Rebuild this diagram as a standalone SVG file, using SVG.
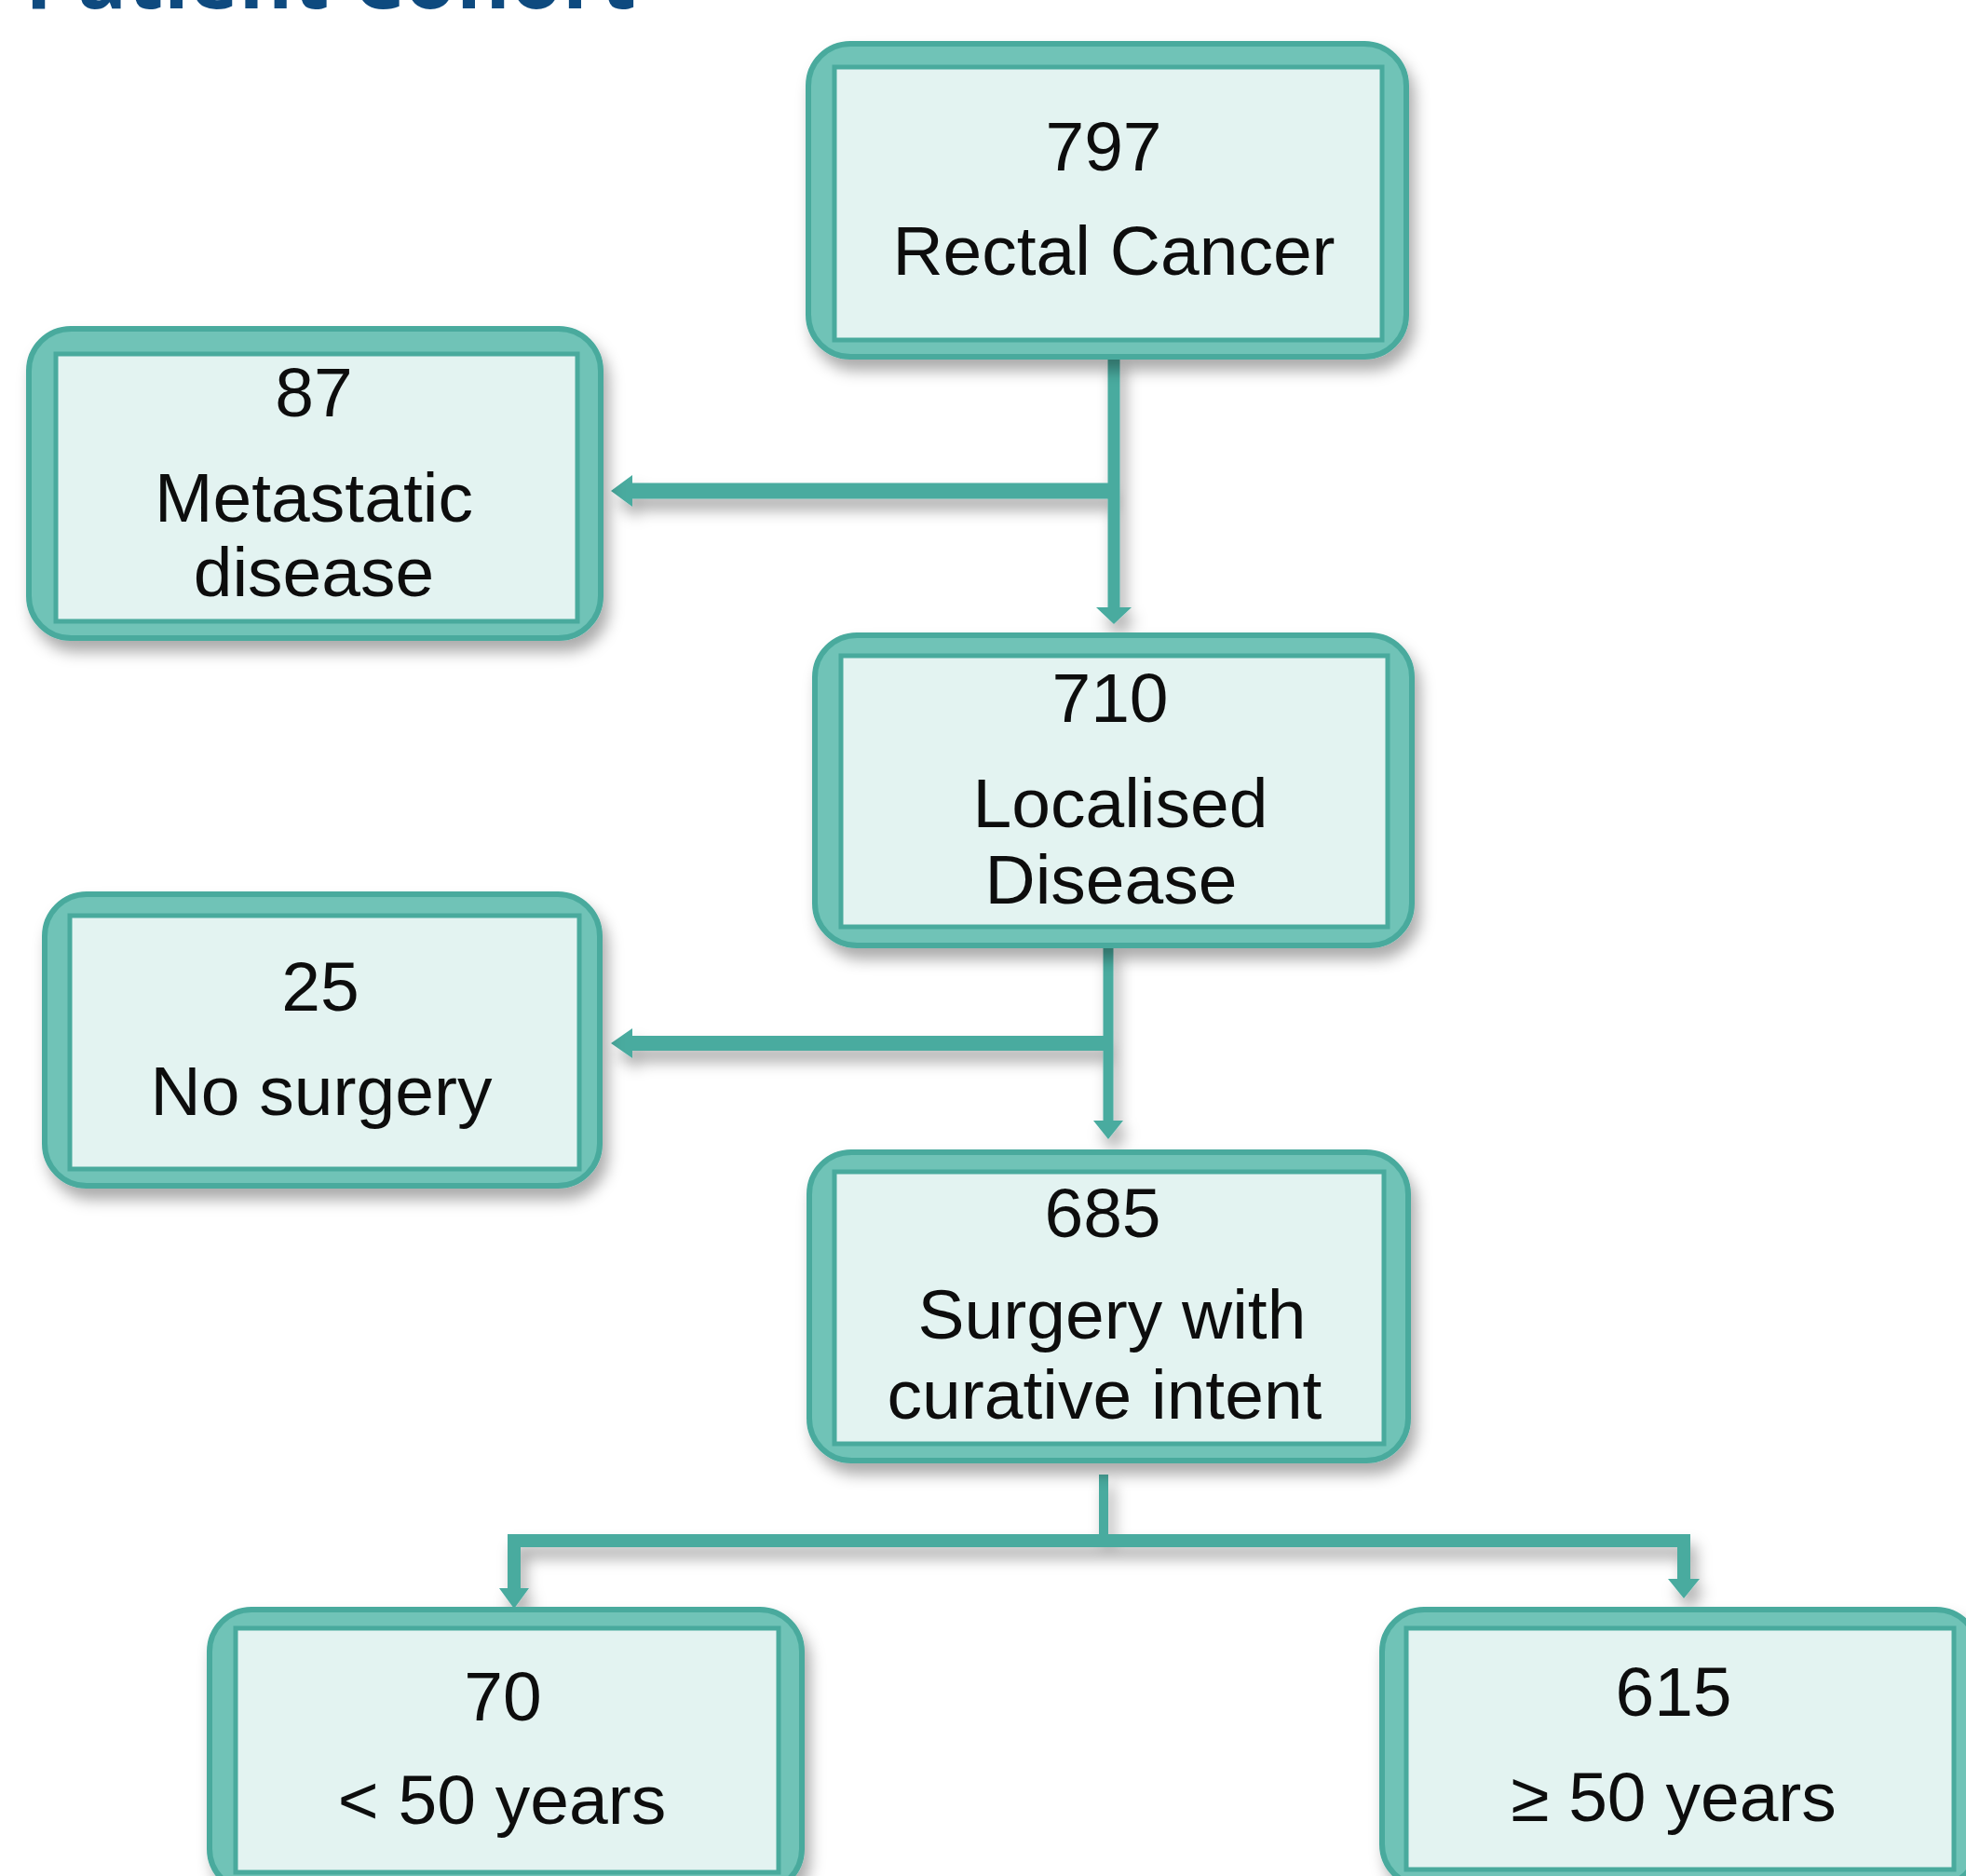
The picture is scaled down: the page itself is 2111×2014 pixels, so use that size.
<svg xmlns="http://www.w3.org/2000/svg" width="2111" height="2014" viewBox="0 0 2111 2014">
<defs>
<filter id="sh" x="-10%" y="-10%" width="130%" height="140%">
<feDropShadow dx="6" dy="12" stdDeviation="8" flood-color="#000" flood-opacity="0.33"/>
</filter>
<style>
.outer{fill:#6fc3b7;stroke:#49aa9d;stroke-width:6}
.inner{fill:#e3f3f1;stroke:#49aa9d;stroke-width:5}
.t{font-family:"Liberation Sans",Arial,sans-serif;font-size:75px;fill:#111;text-anchor:middle}
.ln{stroke:#48ab9f;fill:none;stroke-linecap:butt}
.ah{fill:#48ab9f}
.title{font-family:"Open Sans","DejaVu Sans",sans-serif;font-weight:bold;font-size:88px;fill:#0e4a7f}
</style>
</defs>
<rect width="2111" height="2014" fill="#fff"/>
<text class="title" x="27" y="9" textLength="656" lengthAdjust="spacing">Patient Cohort</text>

<g id="connectors" filter="url(#sh)">
<line class="ln" x1="1196" y1="383" x2="1196" y2="656" stroke-width="13"/>
<polygon class="ah" points="1177,652 1215,652 1196,670"/>
<line class="ln" x1="1202" y1="527" x2="676" y2="527" stroke-width="17"/>
<polygon class="ah" points="679,510 679,544 656,527"/>
<line class="ln" x1="1190" y1="1015" x2="1190" y2="1206" stroke-width="11"/>
<polygon class="ah" points="1174,1203 1206,1203 1190,1223"/>
<line class="ln" x1="1195" y1="1120" x2="676" y2="1120" stroke-width="16"/>
<polygon class="ah" points="679,1104 679,1136 656,1120"/>
<line class="ln" x1="1185" y1="1583" x2="1185" y2="1654" stroke-width="10"/>
<path class="ln" d="M552 1708 V1654 H1808 V1698" stroke-width="14"/>
<polygon class="ah" points="536,1705 568,1705 552,1727"/>
<polygon class="ah" points="1791,1695 1825,1695 1808,1716"/>
</g>

<g id="n797" filter="url(#sh)">
<rect class="outer" x="868" y="47" width="642" height="336" rx="45"/>
<rect class="inner" x="896" y="72" width="588" height="293"/>
<text class="t" x="1185" y="183">797</text>
<text class="t" x="1196" y="295">Rectal Cancer</text>
</g>

<g id="n87" filter="url(#sh)">
<rect class="outer" x="31" y="353" width="614" height="332" rx="45"/>
<rect class="inner" x="60" y="380" width="560" height="287"/>
<text class="t" x="337" y="447">87</text>
<text class="t" x="337" y="560">Metastatic</text>
<text class="t" x="337" y="640">disease</text>
</g>

<g id="n710" filter="url(#sh)">
<rect class="outer" x="875" y="682" width="641" height="333" rx="45"/>
<rect class="inner" x="903" y="704" width="587" height="291"/>
<text class="t" x="1192" y="775">710</text>
<text class="t" x="1203" y="888">Localised</text>
<text class="t" x="1193" y="970">Disease</text>
</g>

<g id="n25" filter="url(#sh)">
<rect class="outer" x="48" y="960" width="596" height="313" rx="45"/>
<rect class="inner" x="75" y="983" width="547" height="272"/>
<text class="t" x="344" y="1085">25</text>
<text class="t" x="345" y="1197">No surgery</text>
</g>

<g id="n685" filter="url(#sh)">
<rect class="outer" x="869" y="1237" width="643" height="331" rx="45"/>
<rect class="inner" x="896" y="1258" width="590" height="292"/>
<text class="t" x="1184" y="1328">685</text>
<text class="t" x="1194" y="1437">Surgery with</text>
<text class="t" x="1186" y="1523">curative intent</text>
</g>

<g id="n70" filter="url(#sh)">
<rect class="outer" x="225" y="1728" width="636" height="302" rx="45"/>
<rect class="inner" x="253" y="1748" width="583" height="262"/>
<text class="t" x="540" y="1847">70</text>
<text class="t" x="539" y="1958">&lt; 50 years</text>
</g>

<g id="n615" filter="url(#sh)">
<rect class="outer" x="1484" y="1728" width="640" height="297" rx="45"/>
<rect class="inner" x="1510" y="1748" width="588" height="259"/>
<text class="t" x="1797" y="1842">615</text>
<text class="t" x="1797" y="1955">≥ 50 years</text>
</g>
</svg>
